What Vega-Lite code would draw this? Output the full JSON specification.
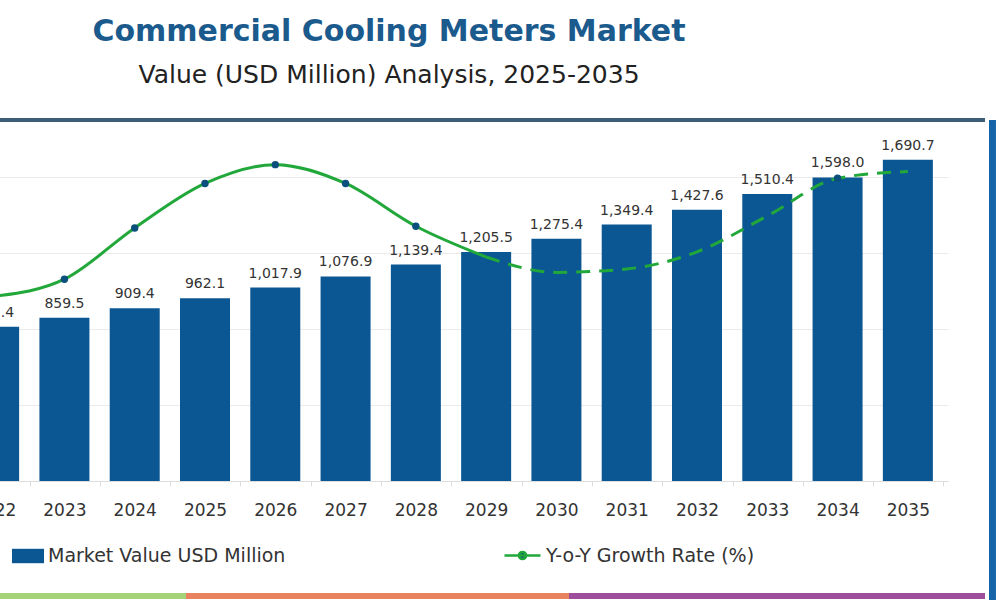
{
  "$schema": "https://vega.github.io/schema/vega-lite/v6.json",
  "autosize": "none",
  "width": 994,
  "height": 342,
  "padding": {"left": -46, "top": 139, "right": 52, "bottom": 119},
  "background": "white",
  "config": {
    "font": "DejaVu Sans",
    "view": {"stroke": null},
    "legend": {"labelFontSize": 19, "labelColor": "#333333", "labelFont": "DejaVu Sans", "labelLimit": 0}
  },
  "title": {
    "text": "Commercial Cooling Meters Market",
    "subtitle": "Value (USD Million) Analysis, 2025-2035",
    "anchor": "middle",
    "dx": -62,
    "offset": 29,
    "font": "DejaVu Sans",
    "fontSize": 30,
    "fontWeight": "bold",
    "color": "#1b5a8c",
    "subtitleFont": "DejaVu Sans",
    "subtitleFontSize": 25,
    "subtitleColor": "#222222",
    "subtitlePadding": 16
  },
  "datasets": {
    "market": [
      {"year": 2022, "value": 812.4},
      {"year": 2023, "value": 859.5},
      {"year": 2024, "value": 909.4},
      {"year": 2025, "value": 962.1},
      {"year": 2026, "value": 1017.9},
      {"year": 2027, "value": 1076.9},
      {"year": 2028, "value": 1139.4},
      {"year": 2029, "value": 1205.5},
      {"year": 2030, "value": 1275.4},
      {"year": 2031, "value": 1349.4},
      {"year": 2032, "value": 1427.6},
      {"year": 2033, "value": 1510.4},
      {"year": 2034, "value": 1598.0},
      {"year": 2035, "value": 1690.7}
    ],
    "growth": [
      {"year": 2022, "rate": 5.4},
      {"year": 2023, "rate": 5.9},
      {"year": 2024, "rate": 7.4},
      {"year": 2025, "rate": 8.7},
      {"year": 2026, "rate": 9.25},
      {"year": 2027, "rate": 8.7},
      {"year": 2028, "rate": 7.45},
      {"year": 2029, "rate": 6.55},
      {"year": 2030, "rate": 6.1},
      {"year": 2031, "rate": 6.2},
      {"year": 2032, "rate": 6.7},
      {"year": 2033, "rate": 7.75},
      {"year": 2034, "rate": 8.85},
      {"year": 2035, "rate": 9.05}
    ]
  },
  "layer": [
    {
      "data": {"name": "market"},
      "layer": [
        {
          "mark": {"type": "bar", "width": 50},
          "encoding": {
            "x": {
              "field": "year",
              "type": "quantitative",
              "scale": {"domain": [2021.5, 2035.5], "nice": false, "zero": false},
              "axis": {
                "title": null,
                "values": [2022, 2023, 2024, 2025, 2026, 2027, 2028, 2029, 2030, 2031, 2032, 2033, 2034, 2035],
                "format": "d",
                "labelFlush": false,
                "labelOverlap": false,
                "labelFontSize": 17,
                "labelColor": "#333333",
                "labelPadding": 16,
                "grid": false,
                "domainColor": "#dddddd",
                "tickColor": "#dddddd",
                "tickSize": 5,
                "tickOffset": 35.5,
                "labelOffset": -35.5
              }
            },
            "y": {
              "field": "value",
              "type": "quantitative",
              "scale": {"domain": [0, 1800], "nice": false},
              "axis": {
                "title": null,
                "values": [0, 200, 400, 600, 800, 1000, 1200, 1400, 1600, 1800],
                "labels": false,
                "ticks": false,
                "domain": false,
                "grid": true,
                "gridColor": "#ebebeb"
              }
            },
            "fill": {
              "datum": "Market Value USD Million",
              "scale": {"range": ["#0b5794"]},
              "legend": {
                "title": null,
                "orient": "none",
                "legendX": 58,
                "legendY": 401,
                "symbolType": "M-1,-0.45H1V0.45H-1Z",
                "symbolSize": 1024,
                "symbolStrokeWidth": 0
              }
            }
          }
        },
        {
          "mark": {"type": "text", "baseline": "bottom", "dy": -7, "fontSize": 14, "color": "#333333"},
          "encoding": {
            "x": {"field": "year", "type": "quantitative"},
            "y": {"field": "value", "type": "quantitative"},
            "text": {"field": "value", "type": "quantitative", "format": ",.1f"}
          }
        },
        {
          "mark": {"type": "rule", "color": "#3d5f78", "strokeWidth": 3, "opacity": 0.85},
          "encoding": {
            "x": {"datum": 2021.5},
            "x2": {"datum": 2036.09},
            "y": {"datum": 1900}
          }
        },
        {
          "mark": {"type": "rule", "color": "#a6d27a", "strokeWidth": 6},
          "encoding": {
            "x": {"datum": 2021.5},
            "x2": {"datum": 2024.73},
            "y": {"datum": -605}
          }
        },
        {
          "mark": {"type": "rule", "color": "#e8825f", "strokeWidth": 6},
          "encoding": {
            "x": {"datum": 2024.73},
            "x2": {"datum": 2030.18},
            "y": {"datum": -605}
          }
        },
        {
          "mark": {"type": "rule", "color": "#9e4f9c", "strokeWidth": 6},
          "encoding": {
            "x": {"datum": 2030.18},
            "x2": {"datum": 2036.09},
            "y": {"datum": -605}
          }
        },
        {
          "mark": {"type": "rule", "color": "#1565a8", "strokeWidth": 6},
          "encoding": {
            "x": {"datum": 2036.2},
            "y": {"datum": 1900},
            "y2": {"datum": -700}
          }
        }
      ]
    },
    {
      "data": {"name": "growth"},
      "encoding": {
        "x": {"field": "year", "type": "quantitative"},
        "y": {
          "field": "rate",
          "type": "quantitative",
          "scale": {"domain": [0, 10], "nice": false},
          "axis": null
        }
      },
      "layer": [
        {
          "transform": [{"filter": "datum.year <= 2029"}],
          "mark": {"type": "line", "interpolate": "monotone", "strokeWidth": 3},
          "encoding": {
            "stroke": {
              "datum": "Y-o-Y Growth Rate (%)",
              "scale": {"range": ["#22a83a"]},
              "legend": {
                "title": null,
                "orient": "none",
                "legendX": 549,
                "legendY": 397,
                "symbolType": "M-1,0H1M0.2,0A0.2,0.2,0,1,1,-0.2,0A0.2,0.2,0,1,1,0.2,0",
                "symbolSize": 1296,
                "symbolStrokeWidth": 2.5,
                "symbolFillColor": "#0b4f7c"
              }
            }
          }
        },
        {
          "transform": [{"filter": "datum.year >= 2029"}],
          "mark": {"type": "line", "interpolate": "monotone", "strokeWidth": 3, "strokeDash": [14, 9], "color": "#22a83a"},
          "encoding": {}
        },
        {
          "transform": [{"filter": "(datum.year >= 2023 && datum.year <= 2028) || datum.year == 2034"}],
          "mark": {"type": "point", "filled": true, "size": 55, "color": "#0b4f7c", "opacity": 1},
          "encoding": {}
        }
      ]
    }
  ],
  "resolve": {"scale": {"y": "independent"}}
}
